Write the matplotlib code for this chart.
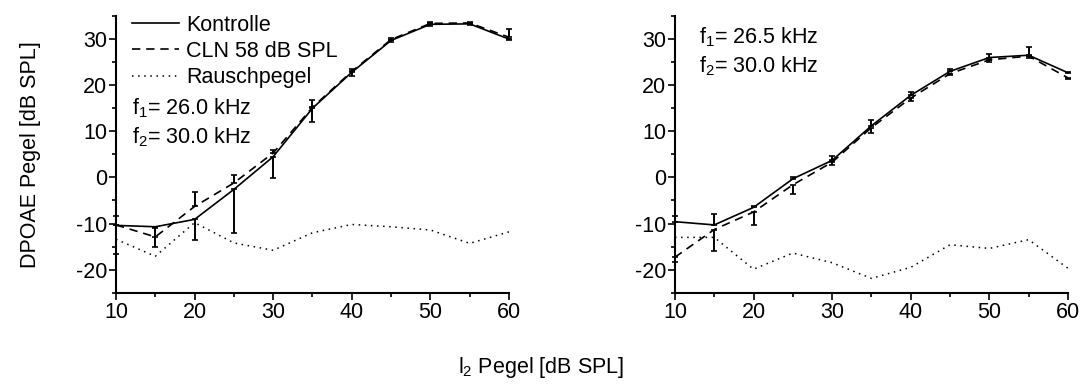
import numpy as np
import matplotlib
matplotlib.use('Agg')
import matplotlib.pyplot as plt
from matplotlib.lines import Line2D

plt.rcParams['font.family'] = ['Liberation Sans', 'DejaVu Sans']
plt.rcParams['mathtext.fontset'] = 'custom'
plt.rcParams['mathtext.rm'] = 'Liberation Sans'

# shared x values (l2 level, dB SPL)
pegel = [10, 15, 20, 25, 30, 35, 40, 45, 50, 55, 60]

# left panel: f1 = 26.0 kHz, f2 = 30.0 kHz
kontrolle_a = [-10.4, -10.7, -9.1, -2.6, 4.5, 15.0, 22.8, 29.7, 33.2, 33.3, 30.0]
kontrolle_a_err = [6.1, 4.3, 4.5, 9.4, 4.7, 2.9, 0.7, 0.4, 0.4, 0.3, 0.3]   # minus only
cln_a = [-10.3, -12.9, -6.3, -1.2, 5.3, 15.2, 23.0, 29.9, 33.4, 33.5, 30.4]
cln_a_err = [2.0, 2.0, 3.2, 1.7, 0.7, 1.5, 0.5, 0.4, 0.3, 0.3, 1.8]       # plus only
rausch_a = [-13.4, -17.1, -9.8, -14.2, -15.8, -12.0, -10.2, -10.7, -11.4, -14.3, -11.8]

# right panel: f1 = 26.5 kHz, f2 = 30.0 kHz
kontrolle_b = [-9.6, -10.3, -6.5, -0.3, 3.7, 11.2, 17.8, 23.0, 26.0, 26.5, 22.7]
kontrolle_b_err = [1.2, 2.4, 0.4, 0.5, 0.9, 1.2, 0.7, 0.6, 0.7, 1.8, 0.2]  # plus only
cln_b = [-17.3, -11.3, -7.5, -1.6, 3.3, 10.8, 17.2, 22.5, 25.5, 26.3, 21.6]
cln_b_err = [1.0, 4.7, 2.9, 2.0, 0.6, 1.1, 0.6, 0.3, 0.4, 0.4, 0.2]        # minus only
rausch_b = [-13.0, -13.0, -19.9, -16.4, -18.5, -21.9, -19.5, -14.6, -15.4, -13.5, -19.7]

fig = plt.figure(figsize=(10.82, 3.88), dpi=100)
ax1 = fig.add_axes([0.1072, 0.2456, 0.3632, 0.7131])
ax2 = fig.add_axes([0.6238, 0.2456, 0.3632, 0.7131])

zeros = [0] * len(pegel)
fs = 15.5
lw = 1.2
dash = (0, (5, 3.5))
dots = (0, (1, 3))

def setup(ax):
    ax.set_xlim(10, 60)
    ax.set_ylim(-25, 35)
    ax.set_xticks(range(10, 61, 10))
    ax.set_xticks(range(15, 60, 10), minor=True)
    ax.set_yticks(range(-20, 31, 10))
    ax.set_yticks(range(-25, 36, 10), minor=True)
    ax.set_yticklabels(['-20', '-10', '0', '10', '20', '30'])
    for s in ['top', 'right']:
        ax.spines[s].set_visible(False)
    for s in ['left', 'bottom']:
        ax.spines[s].set_linewidth(1.5)
    ax.tick_params(which='major', direction='out', length=5, width=1.2, labelsize=fs, pad=1.5)
    ax.tick_params(which='minor', direction='out', length=3, width=1.2)

# left panel
ax1.errorbar(pegel, kontrolle_a, yerr=[kontrolle_a_err, zeros], color='black', lw=lw,
             elinewidth=1.4, capsize=2.5, capthick=1.2, clip_on=False)
ax1.errorbar(pegel, cln_a, yerr=[zeros, cln_a_err], color='black', lw=lw, ls=dash,
             elinewidth=1.4, capsize=2.5, capthick=1.2, clip_on=False)
ax1.plot(pegel, rausch_a, color='black', lw=1.1, ls=dots)
setup(ax1)

handles = [Line2D([], [], color='black', lw=lw),
           Line2D([], [], color='black', lw=lw, ls=dash),
           Line2D([], [], color='black', lw=1.1, ls=dots)]
labels = ['Kontrolle', 'CLN 58 dB SPL', 'Rauschpegel']
ax1.legend(handles, labels, loc='upper left', bbox_to_anchor=(0.04, 1.005), frameon=False,
           fontsize=fs, handlelength=2.2, handletextpad=0.33, labelspacing=0.25,
           borderaxespad=0, borderpad=0)
ax1.text(0.04, 0.667, 'f$_1$= 26.0 kHz', transform=ax1.transAxes, fontsize=fs, va='center')
ax1.text(0.04, 0.562, 'f$_2$= 30.0 kHz', transform=ax1.transAxes, fontsize=fs, va='center')
ax1.set_ylabel('DPOAE Pegel [dB SPL]', fontsize=fs, labelpad=25)

# right panel
ax2.errorbar(pegel, kontrolle_b, yerr=[zeros, kontrolle_b_err], color='black', lw=lw,
             elinewidth=1.4, capsize=2.5, capthick=1.2, clip_on=False)
ax2.errorbar(pegel, cln_b, yerr=[cln_b_err, zeros], color='black', lw=lw, ls=dash,
             elinewidth=1.4, capsize=2.5, capthick=1.2, clip_on=False)
ax2.plot(pegel, rausch_b, color='black', lw=1.1, ls=dots)
setup(ax2)
ax2.text(0.06, 0.925, 'f$_1$= 26.5 kHz', transform=ax2.transAxes, fontsize=fs, va='center')
ax2.text(0.06, 0.82, 'f$_2$= 30.0 kHz', transform=ax2.transAxes, fontsize=fs, va='center')

fig.text(0.5, 0.052, 'l$_2$ Pegel [dB SPL]', ha='center', va='center', fontsize=fs)

fig.savefig('out.png', dpi=100)
